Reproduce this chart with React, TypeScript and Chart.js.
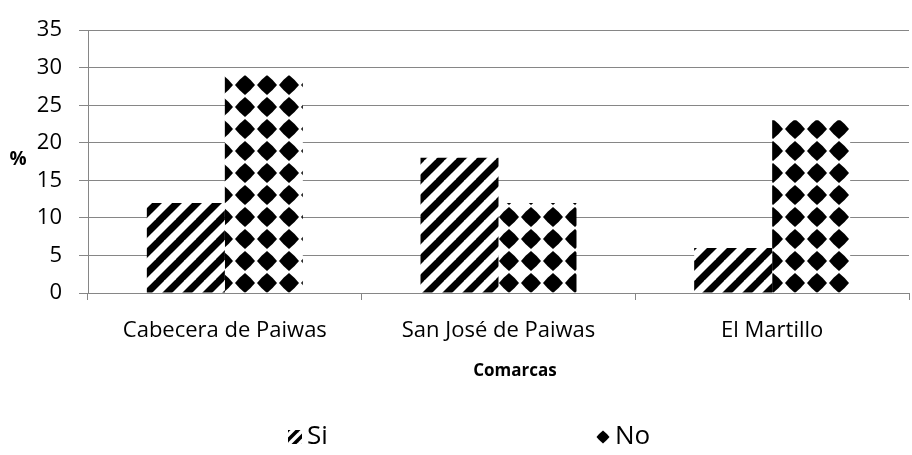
import React, { useEffect, useRef } from "react";
import { Chart, registerables } from "chart.js";

Chart.register(...registerables);

const categories = ["Cabecera de Paiwas", "San José de Paiwas", "El Martillo"];
const siValues = [12, 18, 6];
const noValues = [29, 12, 23];
const seriesNames = ["Si", "No"];
const yTicks = { min: 0, max: 35, step: 5 };
const xTitle = "Comarcas";
const yTitle = "%";

const FONT = "'Open Sans', sans-serif";
const GRID = "#868686";

function stripeTile(size: number, lw: number): HTMLCanvasElement {
  const c = document.createElement("canvas");
  c.width = size;
  c.height = size;
  const g = c.getContext("2d")!;
  g.fillStyle = "#fff";
  g.fillRect(0, 0, size, size);
  g.strokeStyle = "#000";
  g.lineWidth = lw;
  for (const k of [-size, 0, size]) {
    g.beginPath();
    g.moveTo(k - 2, size + 2);
    g.lineTo(k + size + 2, -2);
    g.stroke();
  }
  return c;
}

function diamondTile(size: number, r: number): HTMLCanvasElement {
  const c = document.createElement("canvas");
  c.width = size;
  c.height = size;
  const g = c.getContext("2d")!;
  g.fillStyle = "#fff";
  g.fillRect(0, 0, size, size);
  g.fillStyle = "#000";
  const cx = size / 2;
  const cy = size / 2;
  const k = 0.56;
  g.beginPath();
  g.moveTo(cx, cy - r);
  g.quadraticCurveTo(cx + r * k, cy - r * k, cx + r, cy);
  g.quadraticCurveTo(cx + r * k, cy + r * k, cx, cy + r);
  g.quadraticCurveTo(cx - r * k, cy + r * k, cx - r, cy);
  g.quadraticCurveTo(cx - r * k, cy - r * k, cx, cy - r);
  g.fill();
  return c;
}

export default function App() {
  const ref = useRef<HTMLCanvasElement | null>(null);

  useEffect(() => {
    const canvas = ref.current!;
    const ctx = canvas.getContext("2d")!;
    const sTile = stripeTile(20, 7);
    const dTile = diamondTile(22, 10);
    const stripes = ctx.createPattern(sTile, "repeat")!;
    const diamonds = ctx.createPattern(dTile, "repeat")!;
    diamonds.setTransform(new DOMMatrix().translate(-8, 8));
    const patterns = [stripes, diamonds];

    const extras = {
      id: "extras",
      afterDraw(chart: any) {
        const c = chart.ctx;
        c.save();
        c.fillStyle = "#000";
        c.textBaseline = "middle";
        // y-axis title (horizontal)
        c.font = `bold 19px ${FONT}`;
        c.textAlign = "center";
        c.fillText(yTitle, 18, 160);
        // x-axis title
        c.font = `bold 17px ${FONT}`;
        c.fillText(xTitle, 515, 371);
        // legend
        const items = [
          { x: 288, label: chart.data.datasets[0].label, kind: 0 },
          { x: 596, label: chart.data.datasets[1].label, kind: 1 },
        ];
        const ly = 437;
        c.font = `26px ${FONT}`;
        c.textAlign = "left";
        for (const it of items) {
          const box = 14;
          if (it.kind === 0) {
            const p = c.createPattern(stripeTile(10, 3.5), "repeat")!;
            p.setTransform(new DOMMatrix().translate(it.x, ly - box / 2));
            c.fillStyle = p;
            c.fillRect(it.x, ly - box / 2, box, box);
          } else {
            const t = diamondTile(14, 6.5);
            c.drawImage(t, it.x, ly - 7);
          }
          c.fillStyle = "#000";
          c.fillText(it.label, it.x + box + 5, ly);
        }
        c.restore();
      },
    };

    const chart = new Chart(canvas, {
      type: "bar",
      data: {
        labels: categories,
        datasets: [
          { label: seriesNames[0], data: siValues, backgroundColor: patterns[0] as any, borderWidth: 0 },
          { label: seriesNames[1], data: noValues, backgroundColor: patterns[1] as any, borderWidth: 0 },
        ],
      },
      options: {
        responsive: false,
        animation: false,
        layout: { padding: { top: 13, right: 3, bottom: 0, left: 0 } },
        datasets: { bar: { categoryPercentage: 0.57, barPercentage: 1 } },
        plugins: {
          legend: { display: false },
          tooltip: { enabled: false },
        },
        scales: {
          x: {
            grid: { drawOnChartArea: false, drawTicks: true, tickLength: 7, color: GRID },
            border: { color: GRID },
            ticks: { color: "#000", font: { family: FONT, size: 22 }, padding: 18, maxRotation: 0 },
            afterFit(scale: any) {
              scale.height = 162;
            },
          },
          y: {
            min: yTicks.min,
            max: yTicks.max,
            ticks: { stepSize: yTicks.step, color: "#000", font: { family: FONT, size: 22 }, padding: 17 },
            grid: { color: GRID, tickLength: 9 },
            border: { color: GRID },
            afterFit(scale: any) {
              scale.width = 88;
            },
          },
        },
      },
      plugins: [extras],
    });
    return () => chart.destroy();
  }, []);

  return (
    <div style={{ position: "fixed", left: 0, top: 0, width: 912, height: 455, background: "#fff" }}>
      <canvas ref={ref} width={912} height={455} />
    </div>
  );
}
